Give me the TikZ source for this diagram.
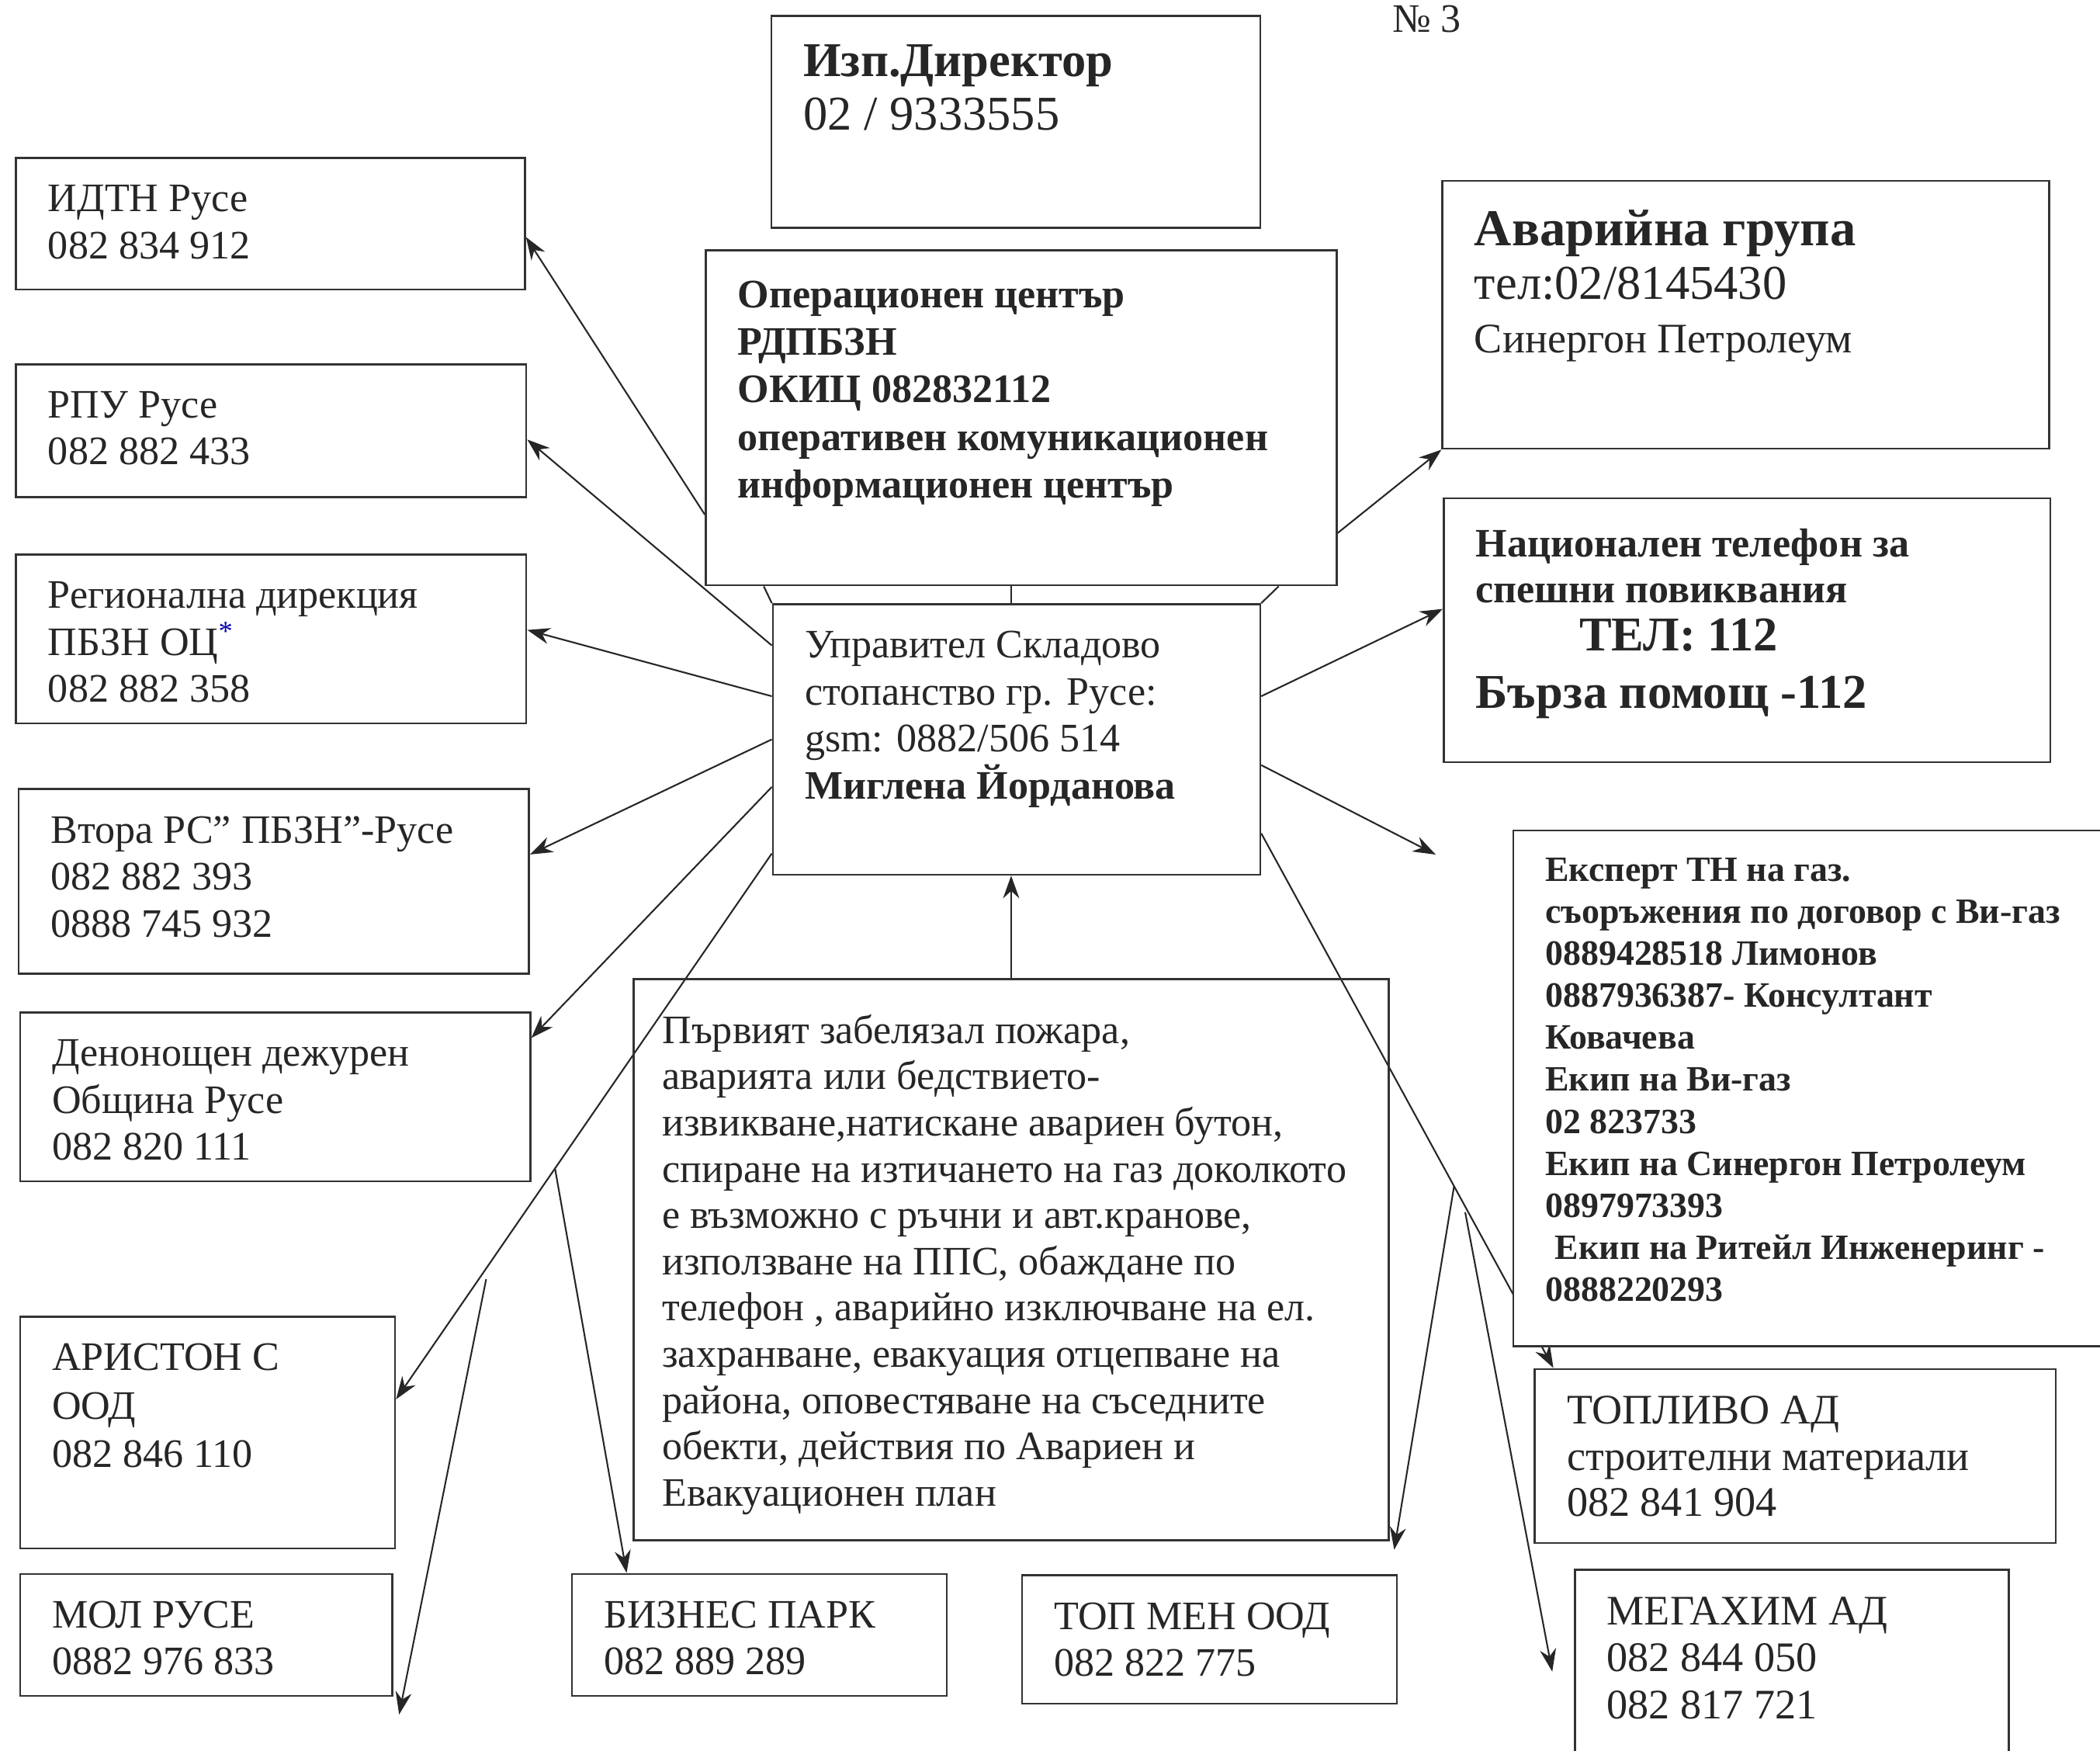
\documentclass[tikz,border=0pt]{standalone}
\usepackage{fontspec}
\setmainfont{Liberation Serif}
\usetikzlibrary{calc,fit,arrows.meta,backgrounds}
\tikzset{
	box/.style={draw=black!80, line width=0.6pt, fill=white, inner sep=0pt},
	txt/.style={anchor=north west, inner xsep=10pt, inner ysep=8.5pt, align=left, text=black!85, font=\fontsize{12.5}{14.5}\selectfont},
	arr/.style={draw=black!85, line width=0.5pt, -{Stealth[length=7pt,width=5pt]}},
	ln/.style={draw=black!85, line width=0.5pt},
}

\begin{document}
\begin{tikzpicture}[x=0.414pt, y=-0.414pt]
			%%%%% START %%%%%
			\useasboundingbox (0,0) rectangle (1568,1307);
			
			\node[anchor=base west, text=black!85, font=\fontsize{12.5}{14}\selectfont] (nomer) at (1031,24) {№ 3};
			
			\node[box, fit={(576,12) (941,170)}, label={[txt, inner ysep=9pt, font=\fontsize{15}{16.6}\selectfont]north west:{\textbf{Изп.Директор}\\02 / 9333555}}] (izpdir) {};
			
			\node[box, fit={(527,187) (998,437)}, label={[txt, inner ysep=9.5pt, font=\fontsize{12.5}{14.7}\selectfont\bfseries]north west:{Операционен център\\РДПБЗН\\ОКИЦ 082832112\\оперативен комуникационен\\информационен център}}] (opcenter) {};
			
			\node[box, fit={(577,451) (941,653)}, label={[txt]north west:{Управител Складово\\стопанство гр. Русе:\\gsm: 0882/506 514\\\textbf{Миглена Йорданова}}}] (upravitel) {};
			
			\node[box, fill=none, fit={(473,731) (1037,1150)}, label={[txt, inner xsep=9pt, inner ysep=11pt, font=\fontsize{12.5}{14.3}\selectfont]north west:{Първият забелязал пожара,\\аварията или бедствието-\\извикване,натискане авариен бутон,\\спиране на изтичането на газ доколкото\\е възможно с ръчни и авт.кранове,\\използване на ППС, обаждане по\\телефон , аварийно изключване на ел.\\захранване, евакуация отцепване на\\района, оповестяване на съседните\\обекти, действия по Авариен и\\Евакуационен план}}] (parvi) {};
			
			% left column
			\node[box, fit={(12,118) (392,216)}, label={[txt]north west:{ИДТН Русе\\082 834 912}}] (idtn) {};
			\node[box, fit={(12,272) (393,371)}, label={[txt]north west:{РПУ Русе\\082 882 433}}] (rpu) {};
			\node[box, fit={(12,414) (393,540)}, label={[txt]north west:{Регионална дирекция\\ПБЗН ОЦ{\color{blue!70!black}\textsuperscript{*}}\\082 882 358}}] (regdir) {};
			\node[box, fit={(14,589) (395,727)}, label={[txt]north west:{Втора РС” ПБЗН”-Русе\\082 882 393\\0888 745 932}}] (vtora) {};
			\node[box, fit={(15,756) (396,882)}, label={[txt]north west:{Денонощен дежурен\\Община Русе\\082 820 111}}] (denon) {};
			\node[box, fit={(15,983) (295,1156)}, label={[txt, font=\fontsize{12.5}{14.9}\selectfont]north west:{АРИСТОН С\\ООД\\082 846 110}}] (ariston) {};
			
			% bottom row
			\node[box, fit={(15,1175) (293,1266)}, label={[txt]north west:{МОЛ РУСЕ\\0882 976 833}}] (mol) {};
			\node[box, fit={(427,1175) (707,1266)}, label={[txt]north west:{БИЗНЕС ПАРК\\082 889 289}}] (biznes) {};
			\node[box, fit={(763,1176) (1043,1272)}, label={[txt]north west:{ТОП МЕН ООД\\082 822 775}}] (topmen) {};
			
			% right column
			\node[box, fit={(1077,135) (1530,335)}, label={[txt, inner ysep=9pt, font=\fontsize{16}{16.6}\selectfont]north west:{\textbf{Аварийна група}\\{\fontsize{15}{16.6}\selectfont тел:02/8145430}\\{\fontsize{13}{16.6}\selectfont Синергон Петролеум}}}] (avar) {};
			\node[box, fit={(1078,372) (1531,569)}, label={[txt, inner ysep=9.5pt, font=\fontsize{12.5}{14.1}\selectfont\bfseries]north west:{Национален телефон за\\спешни повиквания\\[0.8pt]\hspace*{32pt}{\fontsize{15}{14.1}\selectfont ТЕЛ: 112}\\[3.7pt]{\fontsize{15}{14.1}\selectfont Бърза помощ -112}}}] (nacional) {};
			\node[box, fit={(1130,620) (1572,1005)}, label={[txt, font=\fontsize{11}{13}\selectfont\bfseries]north west:{Експерт ТН на газ.\\съоръжения по договор с Ви-газ\\0889428518 Лимонов\\0887936387- Консултант\\Ковачева\\Екип на Ви-газ\\02 823733\\Екип на Синергон Петролеум\\0897973393\\\hspace*{3pt}Екип на Ритейл Инженеринг -\\0888220293}}] (ekspert) {};
			\node[box, fit={(1146,1022) (1535,1152)}, label={[txt, font=\fontsize{13}{14.3}\selectfont]north west:{ТОПЛИВО АД\\строителни материали\\082 841 904}}] (toplivo) {};
			\node[box, fit={(1176,1172) (1500,1315)}, label={[txt, font=\fontsize{13}{14.5}\selectfont]north west:{МЕГАХИМ АД\\082 844 050\\082 817 721}}] (megahim) {};
			
			\begin{scope}[on background layer]
			\fill[white] (0,0) rectangle (1568,1307);
			
			% centre links
			\draw[ln] (parvi.north |- opcenter.south) -- (parvi.north |- upravitel.north);
			\draw[ln] ($(opcenter.south west)+(44,0)$) -- (upravitel.north west);
			\draw[ln] ($(opcenter.south east)+(-44,0)$) -- (upravitel.north east);
			\draw[arr] (parvi.north) -- (parvi.north |- upravitel.south);
			
			% to the left
			\draw[arr] (opcenter.197) -- (idtn.357);
			\draw[arr] (upravitel.159) -- (rpu.358);
			\draw[arr] (upravitel.170) -- (regdir.2);
			\draw[arr] (upravitel.west) -- (vtora.6);
			\draw[arr] (upravitel.191) -- (denon.13);
			\draw[arr] (upravitel.205) -- (ariston.10);
			
			\coordinate (bpStart) at ($(upravitel.205)!0.577!(ariston.10)$);
			\draw[arr] (bpStart) -- (biznes.155);
			\coordinate (molStart) at (363,955);
			\coordinate (molEnd) at (298,1280);
			\draw[arr] (molStart) -- (molEnd);
			
			% to the right
			\draw[arr] (opcenter.340) -- (avar.south west);
			\draw[arr] (upravitel.10) -- (nacional.176);
			\coordinate (eksEnd) at (1072,638);
			\draw[arr] (upravitel.354) -- (eksEnd);
			\draw[arr] (upravitel.339) -- (toplivo.160);
			
			\coordinate (tmStart) at ($(upravitel.339)!0.66!(toplivo.160)$);
			\coordinate (tmEnd) at (1041,1157);
			\draw[arr] (tmStart) -- (tmEnd);
			\coordinate (mhStart) at (1094,905);
			\coordinate (mhEnd) at (1159,1248);
			\draw[arr] (mhStart) -- (mhEnd);
			\end{scope}
			
			%%%%% END %%%%%
\end{tikzpicture}
\end{document}
